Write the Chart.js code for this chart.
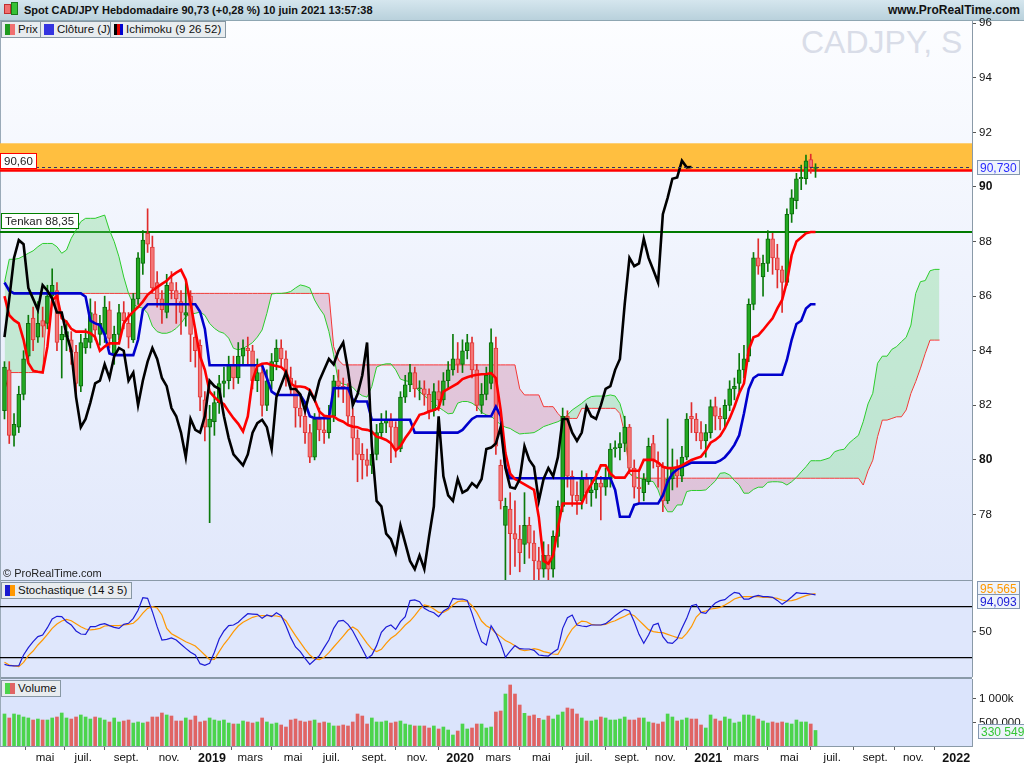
<!DOCTYPE html>
<html lang="fr">
<head>
<meta charset="utf-8">
<title>Spot CAD/JPY Hebdomadaire</title>
<script src="https://cdn.jsdelivr.net/npm/chart.js@4.4.1/dist/chart.umd.min.js"></script>
<style>
  html, body { margin: 0; padding: 0; background: #fff; }
  body { width: 1024px; height: 768px; overflow: hidden; position: relative;
         font-family: "Liberation Sans", Arial, sans-serif; color: #111; }
  .abs { position: absolute; }
  #header { left: 0; top: 0; width: 1024px; height: 21px; box-sizing: border-box;
            background: linear-gradient(#d5e6ee, #b9d1dc); border-bottom: 1px solid #8ea6b2; }
  #title { left: 24px; top: 4px; font-size: 11px; font-weight: bold; white-space: nowrap; }
  #site { right: 4px; top: 3px; font-size: 12px; font-weight: bold; }
  .bg { left: 0; width: 972px; }
  #bgPrice { top: 21px; height: 559px; background: linear-gradient(#fcfdff 0%, #eff3fd 45%, #e1e8fb 100%); }
  #bgStoch { top: 581px; height: 96px; background: #dfe7fc; }
  #bgVol { top: 679px; height: 67px; background: #dbe4fc; }
  .sep { left: 0; width: 972px; height: 1px; background: #8a9aa8; }
  #leftEdge { left: 0; top: 21px; width: 1px; height: 725px; background: #9aaab8; }
  #watermark { left: 801px; top: 26px; font-size: 32px; line-height: 32px; color: #d9dde8; white-space: nowrap; }
  canvas { position: absolute; left: 0; top: 0; width: 1024px; height: 768px; }
  .tab { height: 17px; box-sizing: border-box; border: 1px solid #8797a3; background: #e8ecef;
         font-size: 11.5px; line-height: 15px; padding: 0 4px 0 3px; white-space: nowrap; }
  .ico { display: inline-block; width: 5px; height: 11px; vertical-align: -2px; }
  #copy { left: 3px; top: 567px; font-size: 11px; color: #222; }
</style>
</head>
<body>
<div id="header" class="abs"></div>
<div class="abs" style="left:4px;top:4px;width:5px;height:8px;background:#f07070;border:1px solid #c03030"></div>
<div class="abs" style="left:11px;top:2px;width:5px;height:11px;background:#36c236;border:1px solid #1a7a1a"></div>
<div id="title" class="abs">Spot CAD/JPY Hebdomadaire 90,73 (+0,28 %) 10 juin 2021 13:57:38</div>
<div id="site" class="abs">www.ProRealTime.com</div>

<div id="bgPrice" class="abs bg"></div>
<div id="bgStoch" class="abs bg"></div>
<div id="bgVol" class="abs bg"></div>
<div class="abs sep" style="top:580px"></div>
<div class="abs sep" style="top:677px;height:2px"></div>
<div id="leftEdge" class="abs"></div>
<div id="watermark" class="abs">CADJPY, S</div>

<canvas id="volChart" width="1024" height="768"></canvas>
<canvas id="stochChart" width="1024" height="768"></canvas>
<canvas id="priceChart" width="1024" height="768"></canvas>

<div class="abs tab" style="left:1px;top:21px"><span class="ico" style="background:#1f9a1f"></span><span class="ico" style="background:#f07070;margin-right:3px"></span>Prix</div>
<div class="abs tab" style="left:40px;top:21px"><span class="ico" style="width:10px;background:#3434e0;margin-right:3px"></span>Clôture (J)</div>
<div class="abs tab" style="left:110px;top:21px"><span class="ico" style="width:3px;background:#000"></span><span class="ico" style="width:3px;background:#e00000"></span><span class="ico" style="width:3px;background:#0000d0;margin-right:3px"></span>Ichimoku (9 26 52)</div>
<div class="abs tab" style="left:1px;top:582px"><span class="ico" style="background:#1a1ad0"></span><span class="ico" style="background:#ff9800;margin-right:3px"></span>Stochastique (14 3 5)</div>
<div class="abs tab" style="left:1px;top:680px"><span class="ico" style="background:#4cd44c"></span><span class="ico" style="background:#e06464;margin-right:3px"></span>Volume</div>
<div id="copy" class="abs">© ProRealTime.com</div>

<script>
// Weekly bars, first bar = week of 5 March 2018, last = week of 7 June 2021

const opens = [
  81.8, 83.3, 80.9, 81.2, 82.4, 83.8, 85.2, 84.5, 85.1, 85.0,
  86.0, 86.2, 84.4, 84.5, 84.4, 83.95, 82.7, 84.1, 84.3, 85.35,
  84.6, 84.6, 85.5, 83.9, 84.6, 85.4, 85.0, 84.4, 85.9, 87.2,
  88.3, 87.8, 86.5, 85.9, 85.4, 86.5, 86.2, 85.8, 85.3, 86.0,
  84.5, 84.2, 82.2, 81.2, 81.4, 82.1, 82.8, 82.9, 83.5, 83.0,
  83.8, 84.1, 84.0, 82.9, 83.2, 82.0, 82.9, 83.6, 84.1, 83.7,
  83.0, 82.7, 81.9, 81.6, 81.0, 80.1, 81.5, 81.1, 81.0, 81.6,
  82.9, 82.7, 82.6, 81.6, 80.8, 80.2, 80.0, 79.8, 80.2, 81.0,
  81.35, 81.47, 81.2, 80.4, 82.3, 82.75, 83.2, 82.6, 82.6, 82.4,
  81.8, 82.5, 82.2, 82.9, 83.3, 83.7, 83.5, 84.0, 84.3, 83.3,
  82.0, 82.4, 82.8, 84.1, 79.8, 77.6, 78.2, 77.3, 77.1, 76.9,
  77.6, 76.95, 76.3, 76.0, 76.5, 76.0, 77.2, 78.3, 81.6, 79.4,
  78.7, 78.5, 79.3, 78.8, 78.9, 79.15, 79.0, 79.3, 80.4, 80.45,
  80.6, 81.2, 79.7, 79.0, 78.8, 79.2, 80.6, 79.9, 79.75, 78.5,
  79.3, 79.75, 79.4, 80.1, 81.6, 81.5, 81.0, 80.7, 81.0, 81.95,
  81.6, 81.5, 82.0, 82.6, 82.8, 83.3, 83.8, 85.7, 87.4, 86.7,
  87.2, 88.1, 87.4, 86.96, 86.5, 89.0, 89.5, 90.3, 90.3, 91.0,
  90.68
];

const highs = [
  83.6, 83.6, 81.7, 82.7, 84.0, 85.3, 85.6, 85.8, 85.6, 86.4,
  87.0, 86.5, 84.9, 85.1, 84.7, 84.2, 84.6, 84.8, 85.9, 85.8,
  85.3, 86.0, 85.8, 84.9, 85.7, 85.8, 85.4, 86.1, 87.6, 88.4,
  89.2, 88.2, 86.9, 86.2, 86.8, 86.9, 86.5, 86.2, 86.6, 86.2,
  84.8, 84.4, 82.5, 82.0, 82.5, 83.1, 83.4, 83.8, 83.8, 84.3,
  84.4, 84.5, 84.2, 83.7, 83.4, 83.3, 83.9, 84.4, 84.4, 84.0,
  83.4, 82.9, 82.3, 81.9, 81.3, 81.7, 81.9, 81.5, 82.0, 83.1,
  83.3, 83.0, 82.8, 81.9, 81.1, 80.6, 80.4, 80.5, 81.3, 81.7,
  81.8, 81.7, 81.4, 82.5, 83.1, 83.5, 83.4, 82.9, 82.9, 82.6,
  82.8, 82.9, 83.2, 83.6, 84.6, 84.3, 84.4, 84.6, 84.5, 83.5,
  82.8, 83.4, 84.8, 84.5, 80.0, 78.6, 78.8, 78.5, 77.6, 78.8,
  77.9, 77.4, 76.8, 77.0, 76.9, 77.4, 78.5, 81.9, 81.8, 79.6,
  79.2, 79.6, 79.5, 79.3, 79.6, 79.4, 79.7, 80.6, 80.7, 81.0,
  81.6, 81.3, 80.0, 79.6, 79.5, 80.8, 80.9, 80.3, 79.9, 81.5,
  80.4, 80.0, 80.5, 81.7, 82.1, 81.7, 81.4, 81.3, 82.2, 82.3,
  81.9, 82.2, 82.9, 83.0, 83.9, 84.2, 85.9, 87.6, 88.1, 87.5,
  88.4, 88.3, 87.9, 87.1, 89.2, 89.9, 90.5, 90.8, 91.17, 91.2,
  90.85
];

const lows = [
  81.5, 80.6, 80.5, 81.0, 82.2, 83.6, 84.0, 84.3, 84.5, 84.8,
  85.7, 84.0, 83.0, 84.0, 83.5, 82.3, 82.5, 83.9, 84.1, 84.4,
  84.2, 84.3, 84.1, 83.5, 84.4, 84.8, 84.1, 84.3, 85.7, 86.8,
  87.6, 86.1, 85.6, 85.0, 85.2, 85.9, 85.0, 84.6, 84.9, 83.6,
  83.4, 81.8, 80.7, 77.7, 80.9, 81.7, 82.3, 82.6, 82.6, 82.8,
  83.5, 83.5, 82.6, 82.5, 81.6, 81.8, 82.6, 83.3, 83.4, 82.7,
  82.4, 81.2, 81.2, 80.6, 79.9, 80.0, 80.7, 80.6, 80.8, 81.4,
  82.3, 82.1, 81.3, 80.0, 79.2, 79.3, 79.4, 79.5, 80.0, 80.8,
  81.0, 79.9, 80.1, 80.3, 82.1, 82.5, 82.3, 82.2, 82.0, 81.5,
  81.6, 81.8, 82.0, 82.6, 83.1, 83.2, 83.2, 83.7, 83.0, 81.8,
  81.7, 82.2, 82.6, 80.2, 78.2, 74.9, 75.8, 76.1, 75.9, 76.2,
  76.4, 75.2, 75.0, 75.7, 75.3, 75.7, 76.8, 78.1, 79.0, 78.3,
  78.0, 78.2, 78.4, 78.3, 78.6, 77.8, 78.7, 79.0, 80.1, 80.0,
  80.3, 79.5, 78.6, 78.4, 78.5, 79.1, 79.7, 79.0, 78.1, 78.4,
  78.9, 79.0, 79.2, 80.0, 81.0, 80.7, 80.4, 80.1, 80.8, 81.1,
  81.1, 81.2, 81.8, 82.2, 82.5, 83.0, 83.6, 85.5, 86.8, 86.0,
  86.9, 86.8, 86.3, 85.4, 86.4, 88.7, 89.2, 89.9, 90.1, 90.5,
  90.35
];

const closes = [
  83.4, 80.9, 81.3, 82.4, 83.7, 85.0, 84.4, 85.0, 84.9, 86.0,
  86.4, 84.3, 84.6, 84.7, 83.95, 82.8, 84.3, 84.45, 85.4, 84.75,
  85.0, 85.6, 84.45, 84.6, 85.4, 85.1, 84.5, 85.9, 87.4, 88.05,
  87.9, 86.3, 85.9, 85.5, 86.4, 86.2, 85.9, 85.4, 85.4, 84.6,
  84.0, 82.3, 81.2, 81.5, 82.1, 82.8, 82.9, 83.5, 83.0, 83.8,
  84.1, 84.0, 82.9, 83.2, 82.0, 82.9, 83.6, 84.1, 83.7, 83.0,
  82.7, 81.9, 81.6, 81.0, 80.1, 81.5, 81.1, 81.0, 81.6, 82.9,
  82.7, 82.6, 81.6, 80.8, 80.2, 80.0, 79.8, 80.2, 81.0, 81.35,
  81.47, 81.2, 80.4, 82.3, 82.75, 83.2, 82.6, 82.6, 82.4, 81.8,
  82.5, 82.2, 82.9, 83.3, 83.7, 83.5, 84.0, 84.3, 83.3, 82.0,
  82.4, 83.1, 84.3, 80.5, 78.5, 78.3, 77.3, 77.1, 76.6, 77.6,
  76.95, 76.3, 76.0, 76.5, 76.0, 77.2, 78.3, 81.6, 79.4, 78.7,
  78.5, 79.3, 78.8, 78.9, 79.15, 79.0, 79.3, 80.4, 80.45, 80.6,
  81.2, 79.7, 79.0, 78.95, 79.3, 80.5, 80.0, 79.75, 78.5, 79.3,
  79.7, 79.4, 80.1, 81.5, 81.5, 81.0, 80.7, 81.0, 81.95, 81.6,
  81.5, 82.0, 82.6, 82.7, 83.3, 83.7, 85.7, 87.4, 87.1, 87.2,
  88.1, 87.4, 86.96, 86.5, 89.0, 89.6, 90.3, 90.35, 90.96, 90.72,
  90.73
];

// Ichimoku (9 26 52)
const tenkan = [
  86.0, 85.3, 85.12, 85.0, 84.4, 83.55, 83.27, 83.23, 83.2, 84.15,
  85.86, 86.0, 85.19, 85.06, 84.8, 84.7, 84.7, 84.7, 84.64, 84.5,
  84.0, 84.15, 84.27, 84.27, 84.27, 85.0, 85.25, 85.43, 85.6, 85.8,
  86.05, 86.2, 86.33, 86.45, 86.56, 86.74, 86.86, 86.96, 86.6, 85.74,
  84.76, 83.79, 83.3, 82.5, 82.3, 82.14, 82.04, 81.77, 81.53, 81.32,
  81.04, 81.59, 82.93, 83.44, 83.52, 83.54, 83.48, 83.44, 83.4, 83.24,
  82.8, 82.69, 82.69, 82.66, 82.56, 82.2, 81.77, 81.62, 81.59, 81.59,
  81.47, 81.4, 81.28, 81.22, 81.2, 81.12, 81.1, 81.04, 80.85, 80.8,
  80.73, 80.61, 80.34, 80.5, 80.8, 81.04, 81.35, 81.65, 81.7, 81.77,
  81.83, 81.9, 82.5, 82.6, 82.7, 82.8, 82.96, 83.03, 83.08, 83.12,
  83.14, 83.15, 83.18, 83.0, 81.83, 80.25, 79.5, 79.3, 79.2, 79.1,
  79.0, 78.9, 77.9, 76.3, 76.2, 76.5, 77.5, 78.4, 78.4, 78.4,
  78.4, 78.4, 78.8, 79.1, 79.4, 79.8, 79.8, 79.5, 79.35, 79.35,
  79.35, 79.6, 79.6, 79.6, 80.0, 80.0, 80.0, 79.9, 79.75, 79.7,
  79.7, 79.73, 79.8, 79.9, 80.0, 80.06, 80.12, 80.34, 80.63, 80.73,
  80.88, 81.16, 81.52, 81.95, 82.44, 82.8, 84.03, 84.49, 84.56, 84.76,
  84.98, 85.19, 85.55, 85.86, 86.53, 87.5, 88.0, 88.15, 88.3, 88.35,
  88.35
];

const kijun = [
  86.5, 86.2, 86.1, 86.1, 86.1, 86.1, 86.1, 86.1, 86.1, 86.1,
  86.1, 86.1, 86.1, 86.1, 86.1, 86.1, 86.1, 85.98, 85.1, 85.0,
  84.94, 84.6, 83.9, 83.84, 83.84, 83.84, 83.84, 83.84, 84.4, 85.5,
  85.7, 85.7, 85.7, 85.7, 85.7, 85.7, 85.7, 85.7, 85.7, 85.7,
  85.7, 85.43, 84.8, 83.47, 83.47, 83.47, 83.47, 83.47, 83.47, 83.47,
  83.47, 83.47, 83.47, 83.47, 83.47, 83.0, 82.5, 82.38, 82.38, 82.38,
  82.38, 82.38, 82.38, 82.1, 81.6, 81.53, 81.53, 81.53, 81.53, 82.63,
  82.63, 82.63, 82.63, 82.2, 82.14, 82.14, 82.14, 81.47, 81.47, 81.47,
  81.47, 81.47, 81.47, 81.47, 81.47, 81.47, 81.0, 81.0, 81.0, 81.0,
  81.0, 81.0, 81.0, 81.0, 81.0, 81.0, 81.1, 81.3, 81.5, 81.6,
  81.6, 81.6, 81.6, 81.95, 81.6, 79.75, 79.33, 79.33, 79.33, 79.33,
  79.33, 79.33, 79.33, 79.33, 79.33, 79.33, 79.33, 79.33, 79.33, 79.33,
  79.33, 79.33, 79.33, 79.33, 79.33, 79.33, 79.33, 79.33, 78.9, 77.92,
  77.92, 77.92, 78.35, 78.4, 78.4, 78.4, 78.4, 78.4, 78.7, 79.2,
  79.5, 79.65, 79.75, 79.82, 79.9, 79.9, 79.9, 79.9, 79.9, 79.9,
  79.97, 80.1, 80.3, 80.55, 80.9, 81.7, 82.6, 83.0, 83.12, 83.12,
  83.12, 83.12, 83.12, 83.12, 83.66, 84.4, 84.98, 85.1, 85.55, 85.7,
  85.7
];

// cloud lines, one value per plotted week (already shifted 26 weeks ahead)
const senkouA = [
  86.5, 87.35, 87.35, 87.38, 87.47, 87.57, 87.66, 87.81, 87.93, 87.93,
  87.93, 87.81, 87.57, 87.69, 88.12, 88.42, 88.73, 88.85, 88.85, 88.85,
  88.91, 88.97, 88.42, 88.0, 87.44, 86.7, 86.1, 85.7, 85.6, 85.56,
  85.37, 84.9, 84.7, 84.64, 84.64, 84.7, 84.82, 85.0, 85.25, 85.34,
  85.37, 85.42, 85.3, 85.0, 84.82, 84.7, 84.64, 84.46, 84.09, 84.03,
  84.09, 84.18, 84.3, 84.5, 84.76, 85.37, 86.08, 86.1, 86.1, 86.12,
  86.17, 86.3, 86.41, 86.37, 86.3, 85.86, 85.56, 85.31, 84.7, 83.85,
  82.85, 82.78, 82.73, 82.66, 82.47, 82.35, 82.3, 82.69, 83.4, 83.48,
  83.52, 83.52, 83.3, 82.96, 82.9, 82.87, 82.69, 82.5, 82.35, 82.2,
  82.08, 81.93, 81.81, 81.69, 81.71, 82.08, 82.14, 82.14, 82.08, 81.96,
  81.74, 81.65, 81.59, 81.46, 81.28, 81.2, 81.15, 81.04, 80.95, 80.97,
  80.98, 81.0, 81.1, 81.22, 81.28, 81.34, 81.4, 81.49, 81.65, 81.83,
  81.95, 82.07, 82.22, 82.32, 82.34, 82.34, 82.34, 82.38, 82.34, 82.07,
  81.46, 79.5, 79.4, 79.33, 79.3, 79.24, 79.2, 78.9, 78.4, 78.1,
  78.1, 78.35, 78.35, 78.84, 78.88, 78.88, 78.88, 78.9, 79.06, 79.23,
  79.51, 79.53, 79.45, 79.24, 79.08, 78.78, 78.78, 78.92, 79.0, 79.0,
  79.18, 79.2, 79.2, 79.18, 79.08, 79.2, 79.36, 79.56, 79.75, 79.97,
  79.97, 79.97, 80.02, 80.08, 80.3, 80.36, 80.39, 80.61, 80.76, 80.9,
  81.4, 82.05, 82.44, 83.54, 83.8, 83.8, 84.05, 84.15, 84.33, 84.49,
  84.94, 86.1, 86.53, 86.57, 86.93, 86.98, 86.98
];

const senkouB = [
  82.5, 83.2, 83.2, 83.2, 83.2, 83.2, 83.2, 83.2, 83.2, 86.1,
  86.1, 86.1, 86.1, 86.1, 86.1, 86.1, 86.1, 86.1, 86.1, 86.1,
  86.1, 86.1, 86.1, 86.1, 86.1, 86.1, 86.1, 86.1, 86.1, 86.1,
  86.1, 86.1, 86.1, 86.1, 86.1, 86.1, 86.1, 86.1, 86.1, 86.1,
  86.1, 86.1, 86.1, 86.1, 86.1, 86.1, 86.1, 86.1, 86.1, 86.1,
  86.1, 86.1, 86.1, 86.1, 86.1, 86.1, 86.1, 86.1, 86.1, 86.1,
  86.1, 86.1, 86.1, 86.1, 86.1, 86.1, 86.1, 86.1, 86.1, 84.15,
  83.66, 83.48, 83.48, 83.48, 83.48, 83.48, 83.48, 83.48, 83.48, 83.48,
  83.48, 83.48, 83.48, 83.48, 83.48, 83.48, 83.48, 83.48, 83.48, 83.48,
  83.48, 83.48, 83.48, 83.48, 83.48, 83.48, 83.48, 83.48, 83.48, 83.48,
  83.48, 83.48, 83.48, 83.48, 83.48, 83.48, 83.48, 83.48, 82.6, 82.38,
  82.38, 82.38, 82.38, 81.95, 81.95, 81.95, 81.7, 81.52, 81.52, 81.52,
  81.52, 81.89, 81.89, 81.89, 81.89, 81.89, 81.89, 81.89, 81.89, 81.7,
  80.98, 79.5, 79.33, 79.33, 79.33, 79.33, 79.33, 79.33, 79.33, 79.33,
  79.33, 79.33, 79.33, 79.33, 79.33, 79.33, 79.33, 79.33, 79.33, 79.33,
  79.33, 79.33, 79.33, 79.33, 79.33, 79.33, 79.33, 79.33, 79.33, 79.33,
  79.33, 79.33, 79.33, 79.33, 79.33, 79.33, 79.33, 79.33, 79.33, 79.33,
  79.33, 79.33, 79.33, 79.33, 79.33, 79.33, 79.33, 79.33, 79.33, 79.33,
  79.08, 79.6, 79.99, 80.85, 81.46, 81.46, 81.52, 81.58, 81.58, 81.83,
  82.44, 82.87, 83.36, 83.9, 84.39, 84.39, 84.39
];

// Stochastique (14 3 5)
const stochK = [
  11.6, 10.0, 9.7, 10.0, 22.7, 31.4, 38.5, 44.5, 46.4, 55.1,
  65.4, 68.6, 68.2, 62.2, 58.3, 51.2, 47.6, 47.2, 56.3, 56.3,
  58.7, 59.9, 57.5, 55.5, 54.3, 59.1, 60.3, 66.2, 75.7, 90.7,
  89.9, 74.1, 56.3, 40.5, 41.3, 42.9, 40.5, 35.4, 30.6, 25.9,
  22.7, 12.4, 10.4, 12.8, 25.9, 41.7, 51.2, 57.5, 58.3, 61.5,
  67.0, 71.7, 71.3, 70.9, 66.2, 70.2, 68.2, 72.9, 69.4, 57.5,
  43.3, 32.2, 26.7, 18.7, 11.6, 16.8, 21.9, 31.4, 40.5, 54.3,
  63.0, 63.8, 59.1, 51.2, 40.5, 29.8, 18.7, 22.7, 33.8, 49.6,
  55.9, 58.3, 53.1, 62.2, 68.2, 87.2, 88.0, 86.0, 78.1, 74.9,
  72.9, 68.2, 74.9, 78.1, 89.9, 89.1, 89.1, 87.5, 72.1, 54.3,
  38.5, 34.6, 57.5, 48.4, 36.5, 20.0, 27.4, 33.8, 30.2, 29.8,
  29.8, 28.2, 22.7, 21.9, 21.5, 25.9, 29.8, 54.3, 67.0, 70.2,
  58.3, 57.1, 56.3, 58.3, 58.3, 58.3, 59.9, 64.2, 69.4, 73.3,
  76.9, 74.9, 62.2, 47.2, 36.5, 46.4, 58.3, 60.3, 44.5, 37.3,
  36.5, 41.7, 54.3, 66.2, 81.2, 82.8, 73.3, 72.1, 78.9, 84.4,
  87.2, 88.3, 93.1, 97.0, 95.9, 89.1, 89.1, 91.9, 93.5, 91.9,
  91.9, 91.1, 87.5, 82.8, 86.8, 91.5, 96.6, 95.9, 95.9, 95.1,
  94.093
];

const stochD = [
  14.0, 10.8, 9.7, 8.9, 14.0, 21.9, 27.4, 34.6, 40.5, 47.2,
  54.3, 59.5, 63.0, 65.0, 63.4, 59.9, 56.3, 53.5, 52.4, 53.1,
  54.3, 57.1, 57.5, 57.5, 57.5, 58.3, 59.1, 60.3, 65.4, 72.5,
  78.1, 80.0, 78.5, 70.2, 54.3, 48.0, 44.8, 41.7, 38.5, 36.1,
  33.4, 28.2, 22.7, 17.2, 17.6, 26.7, 35.4, 42.5, 50.4, 57.1,
  61.5, 64.6, 67.4, 69.0, 69.4, 69.4, 69.4, 69.0, 67.8, 63.4,
  54.3, 45.6, 37.7, 29.8, 22.7, 18.0, 17.2, 19.9, 25.5, 32.2,
  38.5, 45.2, 52.0, 55.9, 52.4, 44.5, 36.5, 29.8, 26.7, 29.4,
  36.5, 42.5, 46.4, 52.0, 58.3, 63.0, 69.4, 76.9, 82.0, 80.8,
  77.3, 73.3, 73.3, 76.5, 82.0, 86.0, 86.8, 86.4, 81.2, 73.3,
  63.0, 57.5, 54.3, 48.4, 44.5, 40.0, 37.3, 33.8, 29.4, 27.8,
  28.6, 30.2, 29.0, 26.7, 25.5, 23.9, 23.5, 33.0, 44.5, 53.5,
  59.1, 63.0, 62.2, 59.1, 58.3, 58.3, 59.1, 61.5, 63.4, 66.2,
  68.6, 71.7, 69.4, 63.8, 58.3, 52.8, 50.4, 49.6, 49.2, 47.2,
  45.2, 43.3, 42.5, 48.4, 56.3, 67.8, 73.3, 74.9, 77.3, 78.1,
  79.2, 82.0, 85.2, 89.1, 91.1, 91.9, 91.9, 91.9, 91.9, 91.1,
  91.1, 90.7, 89.9, 88.0, 86.8, 87.2, 88.7, 91.1, 93.1, 94.7,
  95.565
];

// Volume, in thousands
const volumeK = [
  681, 596, 681, 660, 617, 596, 553, 574, 553, 553,
  596, 617, 702, 596, 574, 617, 660, 617, 574, 617,
  596, 553, 511, 596, 511, 532, 553, 489, 511, 489,
  511, 617, 617, 702, 660, 638, 532, 532, 596, 553,
  638, 511, 532, 596, 553, 532, 553, 489, 468, 468,
  532, 511, 489, 511, 596, 511, 468, 489, 447, 404,
  553, 574, 532, 511, 532, 553, 489, 511, 489, 426,
  426, 447, 426, 511, 681, 638, 468, 596, 511, 511,
  532, 489, 511, 532, 468, 447, 426, 426, 426, 383,
  426, 362, 404, 340, 234, 319, 468, 362, 383, 468,
  468, 383, 404, 723, 745, 1106, 1298, 1106, 872, 695,
  638, 660, 589, 553, 638, 574, 660, 723, 809, 787,
  681, 596, 532, 532, 553, 617, 596, 553, 553, 574,
  617, 553, 553, 596, 596, 511, 489, 468, 511, 681,
  617, 532, 553, 596, 574, 574, 447, 383, 660, 574,
  532, 617, 574, 489, 511, 660, 660, 638, 574, 532,
  489, 511, 489, 511, 489, 468, 553, 511, 511, 468,
  330.549
];

// horizontal levels drawn by the user
const zoneHigh = 91.6;
const zoneLow = 90.6;
const tenkanLevel = 88.35;

// time axis: bar index of the first week of each labelled month
const tickBars = [9, 17, 26, 35, 44, 52, 61, 69, 78, 87, 96, 104, 113, 122, 131, 139, 148, 156, 165, 174, 183, 191, 200];
const tickLabels = ['mai', 'juil.', 'sept.', 'nov.', '2019', 'mars', 'mai', 'juil.', 'sept.', 'nov.', '2020', 'mars',
  'mai', 'juil.', 'sept.', 'nov.', '2021', 'mars', 'mai', 'juil.', 'sept.', 'nov.', '2022'];
const priceTicks = [78, 80, 82, 84, 86, 88, 90, 92, 94, 96];
const stochLevels = [20, 50, 80];
const volTicks = [500, 1000];

const FONT = '"Liberation Sans", Arial, sans-serif';
Chart.defaults.font.family = FONT;
Chart.defaults.font.size = 11;
Chart.defaults.color = '#111';

const X_MIN = -0.94;
const X_MAX = 202.8;
const AXIS_W = 52;
const CHIKOU_SHIFT = 26;
const last = closes.length - 1;

const up = closes.map((c, i) => c >= opens[i]);
const pts = arr => arr.map((v, i) => ({ x: i, y: v }));
const comma = (v, d) => v.toFixed(d).replace('.', ',');

const hiddenX = { type: 'linear', min: X_MIN, max: X_MAX, display: false, offset: false };

function rightAxis(extra) {
  return Object.assign({
    position: 'right',
    afterFit: s => { s.width = AXIS_W; },
    border: { color: '#8a9aa8' },
    grid: { drawOnChartArea: false, tickLength: 4, color: '#555' },
    ticks: { padding: 3, color: '#111' }
  }, extra);
}

function valueBox(ctx, x, yc, text, color) {
  ctx.save();
  ctx.font = '12px ' + FONT;
  const w = Math.ceil(ctx.measureText(text).width) + 6;
  const h = 15;
  const top = Math.round(yc - h / 2);
  ctx.fillStyle = '#eef3fb';
  ctx.fillRect(x, top, w, h);
  ctx.strokeStyle = '#8497b0';
  ctx.lineWidth = 1;
  ctx.strokeRect(x + 0.5, top + 0.5, w - 1, h - 1);
  ctx.fillStyle = color;
  ctx.textBaseline = 'middle';
  ctx.fillText(text, x + 3, top + h / 2 + 1);
  ctx.restore();
}

function tag(ctx, x, bottom, text, border) {
  ctx.save();
  ctx.font = '11.5px ' + FONT;
  const w = Math.ceil(ctx.measureText(text).width) + 8;
  const h = 16;
  ctx.fillStyle = '#ffffff';
  ctx.fillRect(x, bottom - h, w, h);
  ctx.strokeStyle = border;
  ctx.lineWidth = 1;
  ctx.strokeRect(x + 0.5, bottom - h + 0.5, w - 1, h - 1);
  ctx.fillStyle = '#222';
  ctx.textBaseline = 'middle';
  ctx.fillText(text, x + 4, bottom - h / 2 + 1);
  ctx.restore();
}

function hLine(ctx, area, y, color, width, dash) {
  ctx.save();
  ctx.strokeStyle = color;
  ctx.lineWidth = width;
  if (dash) ctx.setLineDash(dash);
  ctx.beginPath();
  ctx.moveTo(area.left, y);
  ctx.lineTo(area.right, y);
  ctx.stroke();
  ctx.restore();
}

// orange zone, support line and tenkan level, plus the tags
const levelsPlugin = {
  id: 'levels',
  beforeDatasetsDraw(chart) {
    const { ctx, chartArea: a, scales: { y } } = chart;
    const zt = y.getPixelForValue(zoneHigh);
    const zb = y.getPixelForValue(zoneLow);
    ctx.save();
    ctx.fillStyle = '#ffbf40';
    ctx.fillRect(a.left, zt, a.right - a.left, zb - zt);
    ctx.restore();
    hLine(ctx, a, zb, '#ff0000', 2.5);
    hLine(ctx, a, y.getPixelForValue(tenkanLevel), '#007a00', 2);
  },
  afterDatasetsDraw(chart) {
    const { ctx, chartArea: a, scales: { y } } = chart;
    const yc = y.getPixelForValue(closes[last]);
    hLine(ctx, a, Math.round(yc) + 0.5, '#30306a', 1, [3, 3]);
    tag(ctx, 0, Math.round(y.getPixelForValue(zoneLow)) - 2, comma(zoneLow, 2), '#ff0000');
    tag(ctx, 1, Math.round(y.getPixelForValue(tenkanLevel)) - 3, 'Tenkan ' + comma(tenkanLevel, 2), '#008000');
  },
  afterDraw(chart) {
    const y = chart.scales.y;
    valueBox(chart.ctx, 977, y.getPixelForValue(closes[last]), comma(closes[last], 3), '#2b2bff');
  }
};

new Chart(document.getElementById('priceChart'), {
  type: 'bar',
  data: {
    datasets: [
      { type: 'line', data: pts(senkouB), borderColor: '#ff2a2a', borderWidth: 1, pointRadius: 0, fill: false, order: 9 },
      { type: 'line', data: pts(senkouA), borderColor: '#2ccc2c', borderWidth: 1, pointRadius: 0, order: 8,
        fill: { target: 0, above: 'rgba(110, 215, 125, 0.32)', below: 'rgba(205, 95, 130, 0.28)' } },
      { type: 'bar', data: highs.map((h, i) => ({ x: i, y: [lows[i], h] })), order: 6, grouped: false,
        barThickness: 1, backgroundColor: up.map(u => u ? '#0b7a0b' : '#e02c2c'), borderWidth: 0 },
      { type: 'bar', data: opens.map((o, i) => ({ x: i, y: [o, closes[i]] })), order: 5, grouped: false,
        barThickness: 4, minBarLength: 1, borderWidth: 1, borderSkipped: false,
        backgroundColor: up.map(u => u ? '#22a822' : '#f47676'),
        borderColor: up.map(u => u ? '#0a6a0a' : '#e03838') },
      { type: 'line', data: pts(kijun), borderColor: '#0000cc', borderWidth: 2.6, pointRadius: 0, order: 3 },
      { type: 'line', data: pts(tenkan), borderColor: '#ff0000', borderWidth: 2.6, pointRadius: 0, order: 2 },
      { type: 'line', data: closes.slice(CHIKOU_SHIFT).map((c, k) => ({ x: k, y: c })),
        borderColor: '#000000', borderWidth: 2.6, pointRadius: 0, order: 1 }
    ]
  },
  options: {
    responsive: false,
    animation: false,
    events: [],
    layout: { padding: { top: 21, bottom: 188, left: 0, right: 0 } },
    plugins: { legend: { display: false }, tooltip: { enabled: false } },
    scales: {
      x: hiddenX,
      y: rightAxis({
        min: 75.6, max: 96.08,
        afterBuildTicks: s => { s.ticks = priceTicks.map(v => ({ value: v })); },
        ticks: {
          padding: 3, color: '#111',
          font: c => (c.tick && c.tick.value % 10 === 0) ? { size: 12, weight: 'bold' } : { size: 11.5 }
        }
      })
    }
  },
  plugins: [levelsPlugin]
});

const stochBoxes = {
  id: 'stochBoxes',
  afterDraw(chart) {
    const y = chart.scales.y;
    valueBox(chart.ctx, 977, y.getPixelForValue(stochD[last]) - 5, comma(stochD[last], 3), '#ff9800');
    valueBox(chart.ctx, 977, y.getPixelForValue(stochK[last]) + 7, comma(stochK[last], 3), '#2020d8');
  }
};

new Chart(document.getElementById('stochChart'), {
  type: 'line',
  data: {
    datasets: [
      { data: pts(stochK), borderColor: '#1c1cd6', borderWidth: 1.2, pointRadius: 0, order: 0 },
      { data: pts(stochD), borderColor: '#ff9800', borderWidth: 1.2, pointRadius: 0, order: 1 }
    ]
  },
  options: {
    responsive: false,
    animation: false,
    events: [],
    layout: { padding: { top: 581, bottom: 91, left: 0, right: 0 } },
    plugins: { legend: { display: false }, tooltip: { enabled: false } },
    scales: {
      x: hiddenX,
      y: rightAxis({
        min: -3.4, max: 110.5,
        afterBuildTicks: s => { s.ticks = stochLevels.map(v => ({ value: v })); },
        grid: {
          drawOnChartArea: true, tickLength: 4, lineWidth: 1.2,
          color: c => (c.tick && c.tick.value === 50) ? 'rgba(0,0,0,0)' : '#000',
          tickColor: c => (c.tick && c.tick.value === 50) ? '#555' : 'rgba(0,0,0,0)'
        },
        ticks: { padding: 3, color: '#111', font: { size: 11.5 }, callback: v => v === 50 ? '50' : '' }
      })
    }
  },
  plugins: [stochBoxes]
});

const volBox = {
  id: 'volBox',
  afterDraw(chart) {
    const y = chart.scales.y;
    const n = String(Math.round(volumeK[last] * 1000)).replace(/\B(?=(\d{3})+(?!\d))/g, ' ');
    valueBox(chart.ctx, 978, y.getPixelForValue(volumeK[last]) + 1, n, '#33c633');
  }
};

new Chart(document.getElementById('volChart'), {
  type: 'bar',
  data: {
    datasets: [{
      data: pts(volumeK), grouped: false, barThickness: 3, borderWidth: 0,
      backgroundColor: up.map(u => u ? '#4cd44c' : '#e06464')
    }]
  },
  options: {
    responsive: false,
    animation: false,
    events: [],
    layout: { padding: { top: 679, bottom: 0, left: 0, right: 0 } },
    plugins: { legend: { display: false }, tooltip: { enabled: false } },
    scales: {
      x: {
        type: 'linear', min: X_MIN, max: X_MAX, offset: false, position: 'bottom',
        afterFit: s => { s.height = 22; },
        afterBuildTicks: s => { s.ticks = tickBars.map(b => ({ value: b - 0.5 })); },
        border: { color: '#8a9aa8' },
        grid: { drawOnChartArea: false, tickLength: 4, color: '#666' },
        ticks: {
          autoSkip: false, maxRotation: 0, padding: 1, color: '#111',
          callback: (v, i) => tickLabels[i],
          font: c => /^\d{4}$/.test(tickLabels[c.index]) ? { size: 12.5, weight: 'bold' } : { size: 11.5 }
        }
      },
      y: rightAxis({
        min: 0, max: 1425.5,
        afterBuildTicks: s => { s.ticks = volTicks.map(v => ({ value: v })); },
        ticks: { padding: 3, color: '#111', font: { size: 11.5 }, callback: v => v === 1000 ? '1 000k' : '500 000' }
      })
    }
  },
  plugins: [volBox]
});
</script>
</body>
</html>
